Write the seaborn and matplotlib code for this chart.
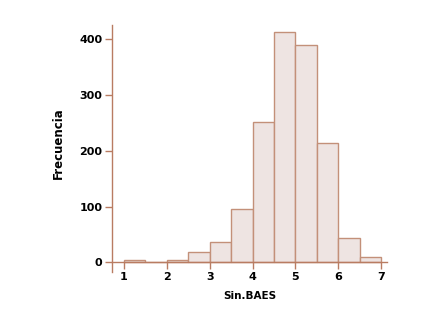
import matplotlib.pyplot as plt
import seaborn as sns
import numpy as np

### Datos
bordes = [1.0, 1.5, 2.0, 2.5, 3.0, 3.5, 4.0, 4.5, 5.0, 5.5, 6.0, 6.5, 7.0]
frecuencias = [5, 0, 5, 18, 37, 95, 252, 413, 390, 214, 43, 9]
ticks_x = [1, 2, 3, 4, 5, 6, 7]
ticks_y = [0, 100, 200, 300, 400]

centros = [(a + b) / 2 for a, b in zip(bordes[:-1], bordes[1:])]
marron = "#b97c62"

sns.set_style("white")
plt.rcParams["font.family"] = ["DejaVu Sans"]

fig = plt.figure(figsize = (4.32, 3.31), dpi = 100)
ax = fig.add_axes([0.2593, 0.1782, 0.6366, 0.7462])
sns.histplot(x = centros, weights = frecuencias, bins = bordes, ax = ax,
             color = "#eee4e2", edgecolor = "#c39079", linewidth = 1.0, alpha = 1)

ax.set_xlim(0.72, 7.14)
ax.set_ylim(-17.4, 425.6)
ax.spines[["top", "right"]].set_visible(False)
ax.spines["bottom"].set_position(("data", 0))
for s in ["left", "bottom"]:
	ax.spines[s].set_color(marron)
	ax.spines[s].set_linewidth(1.0)
ax.set_xticks(ticks_x)
ax.set_yticks(ticks_y)
ax.tick_params(axis = "both", bottom = True, left = True, direction = "out", length = 5, width = 1.0,
               color = marron, labelsize = 8, labelcolor = "black", pad = 2)
for t in ax.get_xticklabels() + ax.get_yticklabels():
	t.set_fontweight("bold")
ax.set_xlabel("Sin.BAES", fontsize = 7.5, fontweight = "bold", color = "black")
ax.set_ylabel("Frecuencia", fontsize = 8.5, fontweight = "bold", color = "black")
ax.xaxis.set_label_coords(0.5, -0.075)
ax.yaxis.set_label_coords(-0.17, 0.52)

plt.savefig("out.png", dpi = 100)
